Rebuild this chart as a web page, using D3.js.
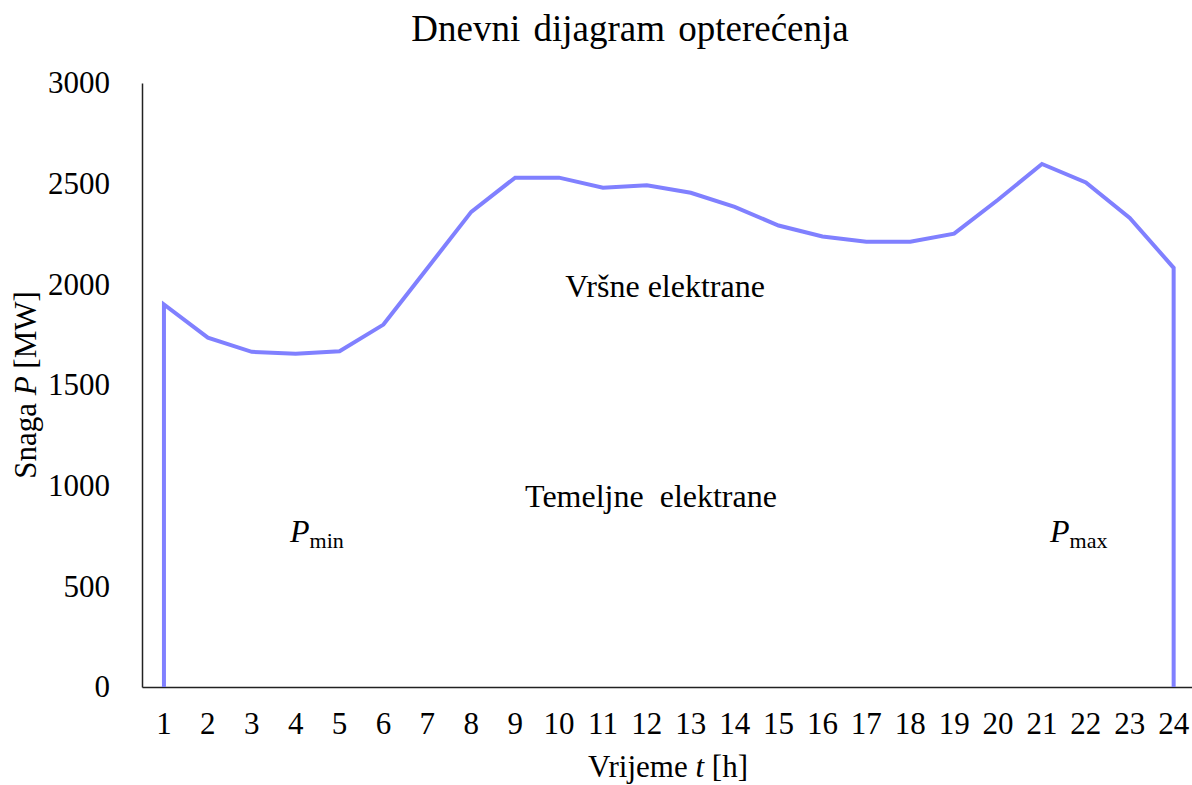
<!DOCTYPE html>
<html>
<head>
    <meta charset="utf-8">
    <title>Dnevni dijagram opterećenja</title>
    <script src="https://d3js.org/d3.v7.min.js"></script>
    <style>
        html, body {
            margin: 0;
            padding: 0;
            background: #fff;
            overflow: hidden;
        }
        svg text {
            font-family: "Liberation Serif", "Times New Roman", serif;
            fill: #000;
        }
        .axis path {
            stroke: #222;
            stroke-width: 1.5px;
        }
        .axis text {
            font-size: 31px;
        }
    </style>
</head>
<body>
    <svg id="chart" width="1192" height="785"></svg>
    <script>
        // Podaci
        const hours = d3.range(1, 25);
        const load = [1900, 1735, 1665, 1655, 1668, 1800, 2080, 2360, 2530, 2530,
            2480, 2492, 2455, 2385, 2292, 2238, 2212, 2212, 2252, 2420,
            2598, 2506, 2330, 2082];
        const yTicks = [0, 500, 1000, 1500, 2000, 2500, 3000];

        const svg = d3.select("#chart");
        const margin = { left: 142, top: 83, bottom: 687 };

        const x = d3.scaleBand()
            .domain(hours)
            .range([margin.left, margin.left + 24 * 43.9]);
        const y = d3.scaleLinear()
            .domain([0, 3000])
            .range([margin.bottom, margin.top]);
        const cx = h => x(h) + x.bandwidth() / 2;

        // Osi
        svg.append("g")
            .attr("class", "axis")
            .attr("transform", `translate(0,${margin.bottom})`)
            .call(d3.axisBottom(x).tickSize(0).tickPadding(25))
            .call(g => g.selectAll("text").attr("dy", "0.71em"));

        svg.append("g")
            .attr("class", "axis")
            .attr("transform", `translate(${margin.left},0)`)
            .call(d3.axisLeft(y).tickValues(yTicks).tickSize(0).tickPadding(32).tickFormat(d3.format("d")));

        // Krivulja opterećenja (zatvorena do nule na krajevima)
        const pts = [[hours[0], 0]]
            .concat(hours.map((h, i) => [h, load[i]]))
            .concat([[hours[hours.length - 1], 0]]);

        svg.append("path")
            .datum(pts)
            .attr("fill", "none")
            .attr("stroke", "#8080ff")
            .attr("stroke-width", 4)
            .attr("d", d3.line().x(d => cx(d[0])).y(d => y(d[1])));

        // Naslovi
        svg.append("text")
            .attr("x", 630).attr("y", 41)
            .attr("text-anchor", "middle")
            .style("font-size", "37px")
            .style("word-spacing", "4px")
            .text("Dnevni dijagram opterećenja");

        const xt = svg.append("text")
            .attr("x", 668).attr("y", 777)
            .attr("text-anchor", "middle")
            .style("font-size", "31px");
        xt.append("tspan").text("Vrijeme ");
        xt.append("tspan").style("font-style", "italic").text("t");
        xt.append("tspan").text(" [h]");

        const yt = svg.append("text")
            .attr("transform", "translate(36,385) rotate(-90)")
            .attr("text-anchor", "middle")
            .style("font-size", "31px");
        yt.append("tspan").text("Snaga ");
        yt.append("tspan").style("font-style", "italic").text("P");
        yt.append("tspan").text(" [MW]");

        // Oznake područja
        svg.append("text")
            .attr("x", 665).attr("y", 297)
            .attr("text-anchor", "middle")
            .style("font-size", "32px")
            .text("Vršne elektrane");

        svg.append("text")
            .attr("x", 651).attr("y", 507)
            .attr("text-anchor", "middle")
            .style("font-size", "32px")
            .style("white-space", "pre")
            .text("Temeljne  elektrane");

        function pLabel(px, sub) {
            const t = svg.append("text")
                .attr("x", px).attr("y", 542)
                .style("font-size", "32px");
            t.append("tspan").style("font-style", "italic").text("P");
            t.append("tspan").attr("dy", 6).style("font-size", "22px").text(sub);
        }
        pLabel(290, "min");
        pLabel(1050, "max");
    </script>
</body>
</html>
